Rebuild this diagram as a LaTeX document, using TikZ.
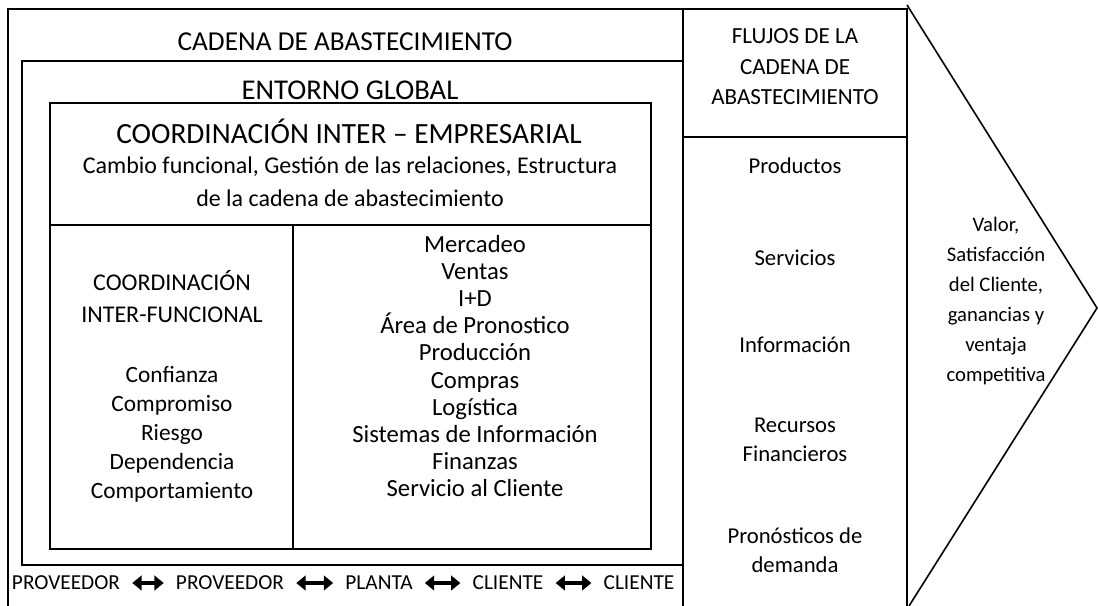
\documentclass[tikz,border=0pt]{standalone}
\usepackage{fontspec}
\setmainfont{Carlito}
\usepackage{tikz}
\usetikzlibrary{arrows.meta,positioning}
\tikzset{
	frame/.style = {line width=1.5pt},
	diag/.style = {line width=1.2pt},
	hdr/.style = {inner sep=0pt, font=\fontsize{20.5}{24}\selectfont},
	txt/.style = {
			align=center,
			inner sep=0pt,
			font=\fontsize{17.5}{21}\selectfont,
		},
	word/.style = {inner sep=0pt, font=\fontsize{16}{19}\selectfont},
	link/.style = {
			line width=3pt,
			{Triangle[length=7pt,width=11pt]}-{Triangle[length=7pt,width=11pt]},
			shorten <=9pt, shorten >=9pt,
		}
}

\begin{document}
\begin{tikzpicture}[x=0.75pt,y=-0.75pt]
		\useasboundingbox (0,0) rectangle (1098,606);

		% cajas
		\draw[frame] (8,606) -- (8,9) -- (907,9) -- (907,606);
		\draw[frame] (683,9) -- (683,606);
		\draw[frame] (683,137) -- (907,137);
		\draw[frame] (683,61) -- (22,61) -- (22,565) -- (683,565);
		\draw[frame] (50,103) rectangle (651,549);
		\draw[frame] (50,225) -- (651,225);
		\draw[frame] (293,225) -- (293,549);
		\draw[diag] (907,5) -- (1097,308) -- (909,606);

		\node[hdr] at (345,42) (cadena) {CADENA DE ABASTECIMIENTO};
		\node[hdr, font=\fontsize{21.5}{24}\selectfont] at (350,90) (entorno) {ENTORNO GLOBAL};
		\node[hdr, font=\fontsize{22}{24}\selectfont] at (349,131) (interemp) {COORDINACIÓN INTER – EMPRESARIAL};
		\node[txt, font=\fontsize{18}{24.75}\selectfont] at (350,182) (cambio) {Cambio funcional, Gestión de las relaciones, Estructura\\de la cadena de abastecimiento};

		\node[txt, font=\fontsize{18}{24}\selectfont] at (172,297) (interfun) {COORDINACIÓN\\INTER-FUNCIONAL};
		\node[txt, font=\fontsize{17.5}{21.75}\selectfont] at (172,434) (valores) {Confianza\\Compromiso\\Riesgo\\Dependencia\\Comportamiento};
		\node[txt, font=\fontsize{18.5}{20.3}\selectfont] at (475,366) (areas) {Mercadeo\\Ventas\\I+D\\Área de Pronostico\\Producción\\Compras\\Logística\\Sistemas de Información\\Finanzas\\Servicio al Cliente};

		\node[txt, font=\fontsize{17.3}{22.9}\selectfont] at (795,67) (flujos) {FLUJOS DE LA\\CADENA DE\\ABASTECIMIENTO};
		\node[txt, font=\fontsize{17}{21.75}\selectfont] at (795,166) (productos) {Productos};
		\node[txt, font=\fontsize{17}{21.75}\selectfont] at (795,258) (servicios) {Servicios};
		\node[txt, font=\fontsize{17}{21.75}\selectfont] at (795,345) (informacion) {Información};
		\node[txt, font=\fontsize{17}{21.75}\selectfont] at (795,440) (recursos) {Recursos\\Financieros};
		\node[txt, font=\fontsize{17}{21.75}\selectfont] at (795,550) (pronosticos) {Pronósticos de\\demanda};

		\node[txt, font=\fontsize{15.5}{22.5}\selectfont] at (996,301) (valor) {Valor,\\Satisfacción\\del Cliente,\\ganancias y\\ventaja\\competitiva};

		% eslabones de la cadena
		\node[word] at (66,583) (prov1) {PROVEEDOR};
		\node[word] at (230,583) (prov2) {PROVEEDOR};
		\node[word] at (379,583) (planta) {PLANTA};
		\node[word] at (508,583) (cli1) {CLIENTE};
		\node[word] at (639,583) (cli2) {CLIENTE};

		\draw[link] (prov1) -- (prov2);
		\draw[link] (prov2) -- (planta);
		\draw[link] (planta) -- (cli1);
		\draw[link] (cli1) -- (cli2);
	\end{tikzpicture}
\end{document}
